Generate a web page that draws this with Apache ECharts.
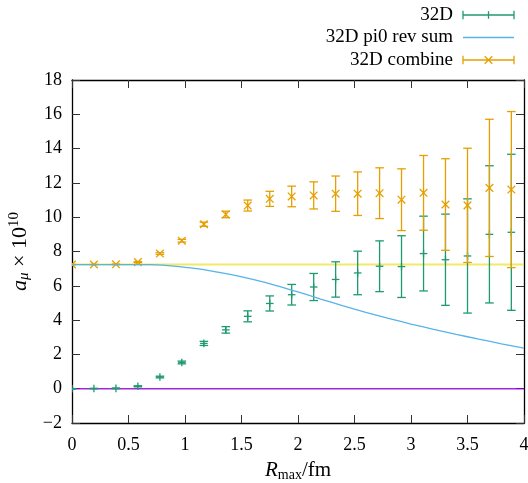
<!DOCTYPE html>
<html>
<head>
<meta charset="utf-8">
<script src="https://cdn.jsdelivr.net/npm/echarts@6/dist/echarts.min.js"></script>
<style>html,body{margin:0;padding:0;background:#fff}#c{width:528px;height:483px}</style>
</head>
<body>
<div id="c"></div>
<script>
// ---- data ----
const rMax = [0, 0.194, 0.389, 0.583, 0.778, 0.972, 1.167, 1.361, 1.555, 1.75, 1.944,
  2.139, 2.333, 2.528, 2.722, 2.916, 3.111, 3.305, 3.5, 3.694, 3.888];
const d32 = [0, 0.01, 0.02, 0.14, 0.68, 1.53, 2.64, 3.43, 4.22, 4.97, 5.48,
  5.93, 6.37, 6.75, 7.14, 7.12, 7.88, 7.52, 7.74, 9.00, 9.12];
const d32Err = [0.01, 0.01, 0.02, 0.03, 0.05, 0.08, 0.12, 0.19, 0.32, 0.44, 0.60,
  0.79, 1.03, 1.27, 1.48, 1.80, 2.18, 2.66, 3.33, 4.00, 4.55];
const comb = [7.24, 7.24, 7.25, 7.38, 7.88, 8.63, 9.59, 10.16, 10.68, 11.07, 11.21,
  11.27, 11.37, 11.37, 11.40, 11.02, 11.42, 10.74, 10.69, 11.71, 11.61];
const combErr = [0.01, 0.01, 0.02, 0.03, 0.05, 0.08, 0.12, 0.19, 0.32, 0.44, 0.60,
  0.79, 1.03, 1.27, 1.48, 1.80, 2.18, 2.67, 3.33, 4.00, 4.55];
const revX = [0, 0.5, 0.6, 0.7, 0.8, 0.9, 1.0, 1.1, 1.2, 1.4, 1.6, 1.8, 2.0, 2.2, 2.4, 2.6, 2.8,
  3.0, 3.2, 3.4, 3.6, 3.8, 4.0];
const revY = [7.24, 7.24, 7.24, 7.23, 7.20, 7.15, 7.08, 7.00, 6.90, 6.66, 6.37, 6.03, 5.64, 5.23,
  4.83, 4.45, 4.10, 3.77, 3.46, 3.17, 2.89, 2.62, 2.36];
const refLevel = 7.24;
const zeroLevel = 0;
const xTicks = [0, 4, 0.5];
const yTicks = [-2, 18, 2];
const legendNames = ['32D', '32D pi0 rev sum', '32D combine'];

const GREEN = '#1f9a70', BLUE = '#56b4e9', ORANGE = '#e69f00', YELLOW = '#f0e442', PURPLE = '#9400d3';
const FONT = 'Liberation Serif';

function errRender(kind, color) {
  return function (params, api) {
    const x = api.value(0), y = api.value(1), e = api.value(2);
    const c = api.coord([x, y]);
    const t = api.coord([x, y + e]);
    const b = api.coord([x, y - e]);
    const w = 4.3, m = 3.8;
    const st = { stroke: color, lineWidth: 1.3, fill: null };
    const ch = [
      { type: 'line', shape: { x1: c[0], y1: t[1], x2: c[0], y2: b[1] }, style: st },
      { type: 'line', shape: { x1: c[0] - w, y1: t[1], x2: c[0] + w, y2: t[1] }, style: st },
      { type: 'line', shape: { x1: c[0] - w, y1: b[1], x2: c[0] + w, y2: b[1] }, style: st }
    ];
    if (kind === 'plus') {
      ch.push({ type: 'line', shape: { x1: c[0] - m, y1: c[1], x2: c[0] + m, y2: c[1] }, style: st });
      ch.push({ type: 'line', shape: { x1: c[0], y1: c[1] - m, x2: c[0], y2: c[1] + m }, style: st });
    } else {
      ch.push({ type: 'line', shape: { x1: c[0] - m, y1: c[1] - m, x2: c[0] + m, y2: c[1] + m }, style: st });
      ch.push({ type: 'line', shape: { x1: c[0] - m, y1: c[1] + m, x2: c[0] + m, y2: c[1] - m }, style: st });
    }
    return { type: 'group', children: ch };
  };
}

const axisCommon = {
  axisLine: { show: true, onZero: false, lineStyle: { color: '#000', width: 1.3 } },
  axisTick: { show: true, inside: true, length: 8, lineStyle: { color: '#333', width: 1 } },
  splitLine: { show: false },
  axisLabel: { color: '#000', fontFamily: FONT, fontSize: 18,
    formatter: v => String(v).replace('-', '\u2212') }
};

// legend built from graphic elements (right-aligned text, sample on right)
const LX = 453, LS = 463, LE = 514, LY0 = 15, LDY = 22.5;
function legendSample(i) {
  const y = LY0 + i * LDY;
  const items = [];
  if (i === 1) {
    items.push({ type: 'line', shape: { x1: LS, y1: y, x2: LE, y2: y }, style: { stroke: BLUE, lineWidth: 1.3 } });
  } else {
    const col = i === 0 ? GREEN : ORANGE;
    const st = { stroke: col, lineWidth: 1.3 };
    const mid = (LS + LE) / 2;
    items.push({ type: 'line', shape: { x1: LS, y1: y, x2: LE, y2: y }, style: st });
    items.push({ type: 'line', shape: { x1: LS, y1: y - 4.3, x2: LS, y2: y + 4.3 }, style: st });
    items.push({ type: 'line', shape: { x1: LE, y1: y - 4.3, x2: LE, y2: y + 4.3 }, style: st });
    if (i === 0) {
      items.push({ type: 'line', shape: { x1: mid, y1: y - 3.8, x2: mid, y2: y + 3.8 }, style: st });
    } else {
      items.push({ type: 'line', shape: { x1: mid - 3.8, y1: y - 3.8, x2: mid + 3.8, y2: y + 3.8 }, style: st });
      items.push({ type: 'line', shape: { x1: mid - 3.8, y1: y + 3.8, x2: mid + 3.8, y2: y - 3.8 }, style: st });
    }
  }
  items.push({ type: 'text', style: { text: legendNames[i], x: LX, y: y, textAlign: 'right', textVerticalAlign: 'middle', font: '19px "' + FONT + '"', fill: '#000' } });
  return items;
}

const chart = echarts.init(document.getElementById('c'), null, { renderer: 'canvas' });
chart.setOption({
  animation: false,
  backgroundColor: '#fff',
  grid: { left: 72, right: 4, top: 80, bottom: 60, containLabel: false, outerBoundsMode: 'none' },
  xAxis: [
    Object.assign({}, axisCommon, {
      type: 'value', min: xTicks[0], max: xTicks[1], interval: xTicks[2], position: 'bottom',
      axisLabel: Object.assign({}, axisCommon.axisLabel, { margin: 13 }),
      name: '{i|R}{s|max}{n|/fm}', nameLocation: 'middle', nameGap: 36,
      nameTextStyle: { rich: {
        i: { fontFamily: FONT, fontStyle: 'italic', fontSize: 21, color: '#000' },
        s: { fontFamily: FONT, fontSize: 14, color: '#000', padding: [9, 0, 0, 0], verticalAlign: 'bottom' },
        n: { fontFamily: FONT, fontSize: 21, color: '#000' }
      } }
    }),
    Object.assign({}, axisCommon, {
      type: 'value', min: xTicks[0], max: xTicks[1], interval: xTicks[2], position: 'top',
      axisLabel: { show: false }
    })
  ],
  yAxis: [
    Object.assign({}, axisCommon, {
      type: 'value', min: yTicks[0], max: yTicks[1], interval: yTicks[2], position: 'left',
      axisLabel: Object.assign({}, axisCommon.axisLabel, { margin: 10 }),
      name: '{i|a}{s|μ}{n| × 10}{p|10}', nameLocation: 'middle', nameGap: 36, nameRotate: 90,
      nameTextStyle: { rich: {
        i: { fontFamily: FONT, fontStyle: 'italic', fontSize: 22, color: '#000' },
        s: { fontFamily: FONT, fontStyle: 'italic', fontSize: 15, color: '#000', padding: [9, 0, 0, 0] },
        n: { fontFamily: FONT, fontSize: 22, color: '#000' },
        p: { fontFamily: FONT, fontSize: 15, color: '#000', padding: [0, 0, 11, 0] }
      } }
    }),
    Object.assign({}, axisCommon, {
      type: 'value', min: yTicks[0], max: yTicks[1], interval: yTicks[2], position: 'right',
      axisLabel: { show: false }
    })
  ],
  series: [
    { type: 'line', data: [[xTicks[0], zeroLevel], [xTicks[1], zeroLevel]], showSymbol: false,
      lineStyle: { color: PURPLE, width: 1.5, opacity: 0.85 }, z: 1, silent: true },
    { type: 'line', data: [[xTicks[0], refLevel], [xTicks[1], refLevel]], showSymbol: false,
      lineStyle: { color: YELLOW, width: 2, opacity: 0.8 }, z: 1, silent: true },
    { type: 'custom', name: legendNames[0], renderItem: errRender('plus', GREEN), clip: true,
      encode: { x: 0, y: 1 }, data: rMax.map((x, i) => [x, d32[i], d32Err[i]]), z: 3 },
    { type: 'line', name: legendNames[1], data: revX.map((x, i) => [x, revY[i]]), smooth: 0.2,
      showSymbol: false, lineStyle: { color: BLUE, width: 1.3 }, z: 4 },
    { type: 'custom', name: legendNames[2], renderItem: errRender('cross', ORANGE), clip: true,
      encode: { x: 0, y: 1 }, data: rMax.map((x, i) => [x, comb[i], combErr[i]]), z: 3 }
  ],
  graphic: [].concat(legendSample(0), legendSample(1), legendSample(2))
});
</script>
</body>
</html>
